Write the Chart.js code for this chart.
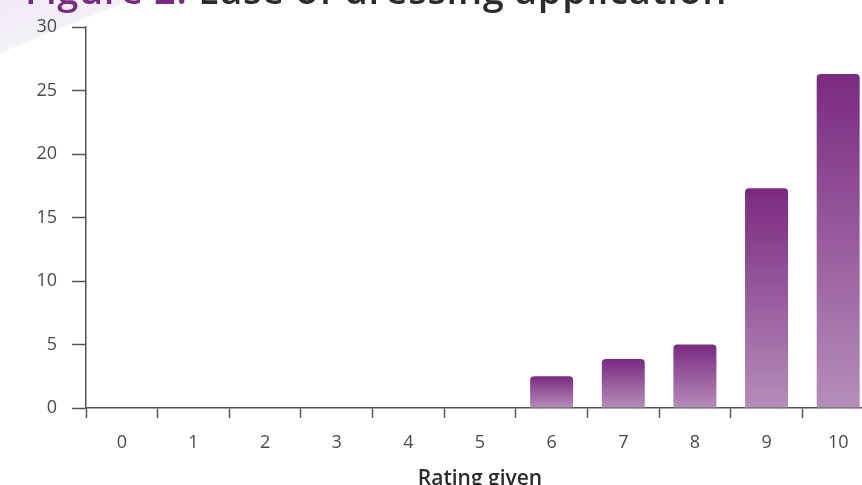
<!DOCTYPE html>
<html>
<head>
<meta charset="utf-8">
<script src="https://cdn.jsdelivr.net/npm/chart.js@4.4.1/dist/chart.umd.min.js"></script>
<style>
  html, body { margin: 0; padding: 0; background: #ffffff; overflow: hidden; }
  #wrap { position: relative; width: 862px; height: 485px; overflow: hidden; }
  #swoosh {
    position: absolute; left: 0; top: 0; width: 140px; height: 56px;
    background: linear-gradient(160deg, #efe9f4 0%, #f6f3f9 60%, #fbfafc 100%);
    clip-path: polygon(0 0, 130px 0, 0 53px);
  }
  #heading {
    position: absolute; left: 25px; top: -30px; margin: 0;
    font-family: "Open Sans", sans-serif; font-weight: 600; font-size: 38px;
    letter-spacing: 0.7px; line-height: 38px; color: #2b2b2b; white-space: nowrap;
  }
  #heading span { color: #7b2a82; }
  #chart { position: absolute; left: 0; top: 0; }
</style>
</head>
<body>
<div id="wrap">
  <div id="swoosh"></div>
  <canvas id="chart" width="880" height="495"></canvas>
  <h1 id="heading"><span>Figure 2:</span> Ease of dressing application</h1>
</div>
<script>
// Ratings 0–10 and number of responses for each
const ratings = ['0', '1', '2', '3', '4', '5', '6', '7', '8', '9', '10'];
const responses = [0, 0, 0, 0, 0, 0, 2.5, 3.85, 5.0, 17.3, 26.3];
const yTicks = [0, 5, 10, 15, 20, 25, 30];
const xTitle = 'Rating given';

const tickFont = { family: '"Open Sans", sans-serif', size: 18 };
const axisColor = '#555555';

// Each bar fades from deep plum at its top to a soft lilac at the baseline
function barFill(ctx) {
  const chart = ctx.chart;
  if (!chart.chartArea || ctx.type !== 'data') return '#9a6aa0';
  const y = chart.scales.y;
  const top = y.getPixelForValue(ctx.raw);
  const base = y.getPixelForValue(0);
  if (!isFinite(top) || base - top < 1) return '#9a6aa0';
  const g = chart.ctx.createLinearGradient(0, top, 0, base);
  g.addColorStop(0, '#7a2a81');
  g.addColorStop(1, '#b68dba');
  return g;
}

new Chart(document.getElementById('chart'), {
  type: 'bar',
  data: {
    labels: ratings,
    datasets: [{
      data: responses,
      backgroundColor: barFill,
      borderRadius: 4,
      borderSkipped: 'bottom',
      barPercentage: 0.6,
      categoryPercentage: 1.0
    }]
  },
  options: {
    responsive: false,
    animation: false,
    devicePixelRatio: 1,
    layout: { padding: { left: 0, right: 6, top: 27, bottom: 0 } },
    plugins: {
      legend: { display: false },
      tooltip: { enabled: false },
      title: { display: false }
    },
    scales: {
      x: {
        offset: true,
        grid: {
          display: true, drawOnChartArea: false, offset: true,
          tickLength: 10, tickWidth: 1.5, tickColor: axisColor
        },
        border: { display: true, color: axisColor, width: 1.5 },
        ticks: { color: '#4a4a4a', font: tickFont, padding: 14, maxRotation: 0 },
        title: {
          display: true, text: xTitle, color: '#2b2b2b',
          font: { family: '"Open Sans", sans-serif', size: 21, weight: '600' },
          padding: { top: 0, bottom: 3 }
        },
        afterFit: (s) => { s.height = 495 - 408; }
      },
      y: {
        min: 0, max: 30,
        afterBuildTicks: (s) => { s.ticks = yTicks.map(v => ({ value: v })); },
        grid: {
          display: true, drawOnChartArea: false,
          tickLength: 14, tickWidth: 1.5, tickColor: axisColor
        },
        border: { display: true, color: axisColor, width: 1.5 },
        ticks: { color: '#4a4a4a', font: tickFont, padding: 15 },
        afterFit: (s) => { s.width = 86; }
      }
    }
  }
});
</script>
</body>
</html>
